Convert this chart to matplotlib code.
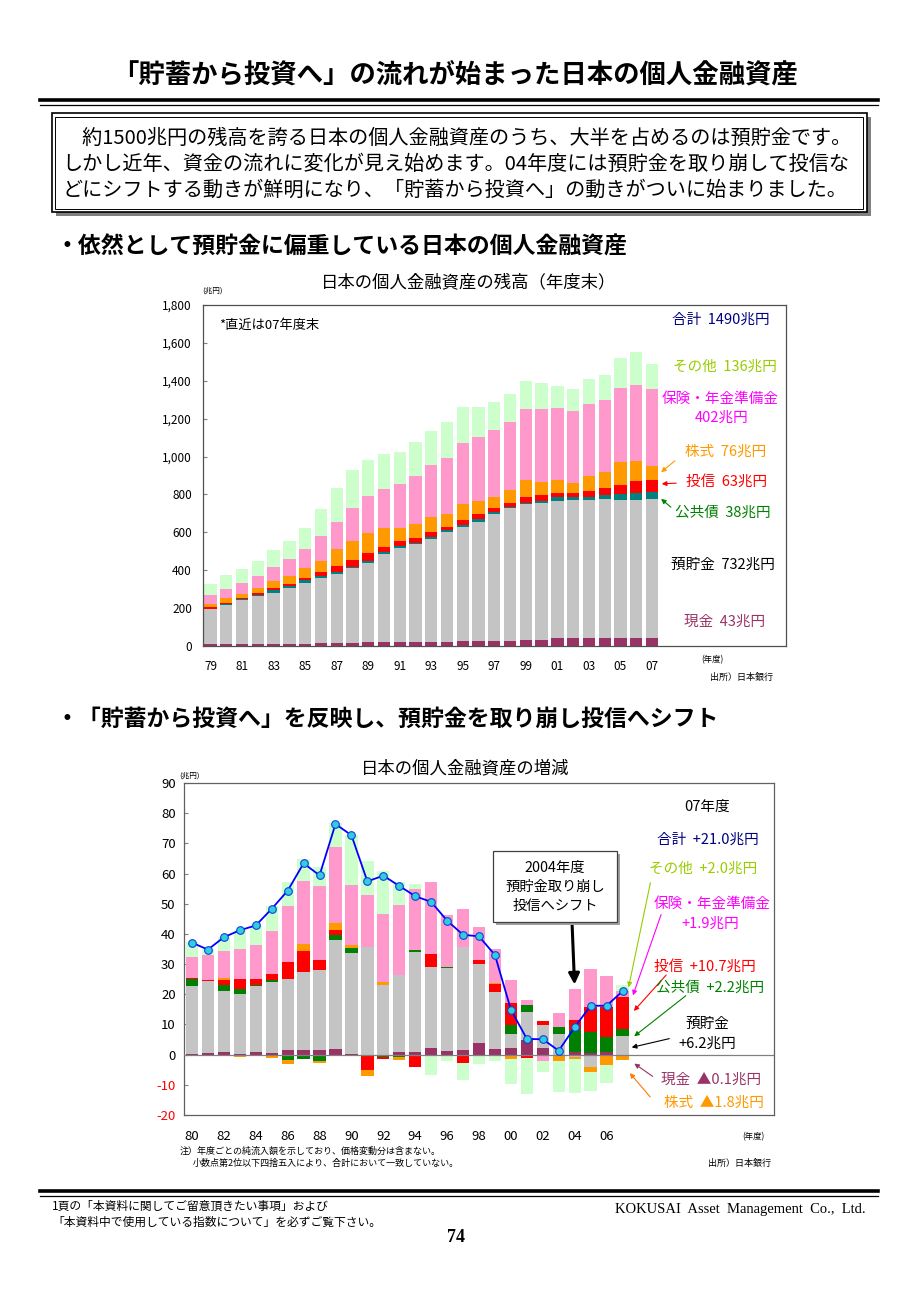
import numpy as np
import matplotlib
matplotlib.use("Agg")
import matplotlib.pyplot as plt
from matplotlib.lines import Line2D
from matplotlib.patches import Rectangle

plt.rcParams['font.family'] = ['Noto Sans CJK JP', 'DejaVu Sans']

# ---- data: balance (trillion yen, fiscal year end) ----
years_bal = ['79', '80', '81', '82', '83', '84', '85', '86', '87', '88', '89', '90', '91', '92',
             '93', '94', '95', '96', '97', '98', '99', '00', '01', '02', '03', '04', '05', '06', '07']
cash_bal = [9, 10, 10, 11, 11, 12, 13, 15, 17, 18, 21, 21, 21, 21, 22, 23, 24, 25, 27, 29, 33, 33, 40, 41, 42, 42, 43, 43, 43]
deposit_bal = [185, 208, 231, 251, 271, 293, 320, 342, 362, 394, 419, 463, 494, 516, 545, 579, 606, 632, 672, 697,
               715, 721, 726, 729, 731, 733, 727, 728, 732]
bond_bal = [3, 6, 6, 9, 12, 12, 14, 13, 14, 6, 10, 11, 13, 9, 9, 9, 9, 12, 9, 10, 9, 9, 18, 14, 16, 21, 31, 36, 38]
trust_bal = [7, 5, 5, 7, 12, 9, 10, 21, 30, 35, 43, 30, 27, 26, 26, 18, 28, 27, 23, 21, 27, 33, 26, 24, 30, 37, 49, 66, 63]
stock_bal = [20, 23, 25, 27, 36, 44, 53, 58, 91, 102, 106, 97, 68, 74, 81, 70, 81, 70, 58, 69, 93, 72, 65, 53, 81, 83,
             119, 104, 76]
ins_bal = [44, 51, 56, 65, 75, 91, 101, 132, 138, 171, 194, 209, 231, 252, 273, 296, 321, 335, 350, 359, 372, 381,
           379, 377, 379, 384, 391, 402, 402]
other_bal = [61, 70, 74, 79, 92, 94, 114, 141, 181, 202, 188, 185, 171, 180, 180, 185, 190, 162, 150, 145, 151, 141,
             118, 118, 132, 130, 160, 171, 136]

# ---- data: yearly net flow (trillion yen) ----
years_chg = ['80', '81', '82', '83', '84', '85', '86', '87', '88', '89', '90', '91', '92', '93',
             '94', '95', '96', '97', '98', '99', '00', '01', '02', '03', '04', '05', '06', '07']
cash_chg = [0.2, 0.5, 0.8, 0.1, 0.8, 0.7, 1.4, 1.4, 1.4, 1.9, 0.3, 0.0, 0.0, 0.8, 0.8, 2.1, 1.3, 1.7, 3.9, 1.9,
            2.1, 4.9, 2.2, 0.0, 1.0, 0.5, 0.8, -0.1]
dep_chg = [22.4, 23.8, 20.2, 20.0, 21.8, 23.4, 23.7, 26.1, 26.8, 36.2, 33.5, 35.6, 23.2, 25.7, 33.1, 26.9, 27.5,
           34.0, 26.1, 19.0, 4.7, 9.3, 7.7, 6.8, -0.8, -4.2, 0.0, 6.2]
bond_chg = [2.5, 0.0, 2.2, 1.8, 0.5, 0.7, -1.7, -1.3, -2.2, 1.4, 1.4, 0.0, -0.8, -0.8, 0.9, 0.0, 0.3, 0.0, 0.0, 0.0,
            3.1, 2.3, 0.0, 2.5, 7.2, 6.9, 5.2, 2.2]
trust_chg = [0.3, 0.3, 1.6, 3.3, 2.1, 2.0, 5.5, 6.7, 3.1, 1.9, 0.0, -5.0, -0.7, 0.0, -4.2, 4.3, 0.0, -2.8, 1.4, 2.5,
             7.1, -1.0, 1.1, 0.0, 3.4, 8.5, 9.9, 10.7]
stock_chg = [-0.4, 0.1, 0.5, -0.7, 0.0, -1.2, -1.4, 2.6, -0.6, 2.1, 1.1, -2.2, 0.8, -0.9, 0.0, 0.0, -0.5, 0.0, -0.3,
             0.5, -1.4, 0.0, 0.0, -2.0, -0.8, -1.7, -3.3, -1.8]
ins_chg = [7.0, 8.3, 8.9, 9.9, 11.2, 14.1, 18.5, 20.8, 24.5, 25.3, 19.9, 17.2, 22.6, 23.2, 20.2, 23.9, 17.0, 12.4,
           10.9, 11.0, 7.8, 1.7, -2.0, 4.4, 10.2, 12.5, 10.0, 1.9]
other_chg = [4.9, 2.0, 4.7, 6.3, 6.3, 8.5, 8.1, 7.2, 6.3, 7.8, 16.5, 11.5, 14.1, 7.5, 1.6, -6.6, -1.5, -5.5, -2.9,
             -2.0, -8.3, -12.0, -3.9, -10.3, -11.0, -6.1, -6.1, 2.0]
total_chg = [37.1, 34.8, 38.9, 41.2, 42.8, 48.3, 54.3, 63.4, 59.4, 76.4, 72.7, 57.4, 59.3, 55.9, 52.5, 50.6, 44.4,
             39.7, 39.2, 33.0, 14.9, 5.2, 5.1, 1.3, 9.1, 16.2, 16.2, 21.0]

C_CASH = '#993366'
C_DEP = '#C4C4C4'
C_TEAL = '#008080'
C_GREEN = '#008000'
C_RED = '#FF0000'
C_ORANGE = '#FF9900'
C_PINK = '#FF99CC'
C_OTHER = '#CCFFCC'
C_NAVY = '#000080'
C_YG = '#99CC00'
C_MAG = '#FF00FF'

W, H = 920, 1302
fig = plt.figure(figsize=(W / 100, H / 100), dpi=100)


def fx(x):
    return x / W


def fy(y):
    return 1 - y / H


def rect(l, t, r, b):
    return [l / W, 1 - b / H, (r - l) / W, (b - t) / H]


def ftext(x, y, s, **kw):
    kw.setdefault('ha', 'center')
    kw.setdefault('va', 'center')
    fig.text(fx(x), fy(y), s, **kw)


def farrow(x0, y0, x1, y1, color, lw=0.8, ms=7):
    fig.add_artist(matplotlib.patches.FancyArrowPatch(
        (fx(x0), fy(y0)), (fx(x1), fy(y1)), transform=fig.transFigure,
        arrowstyle='-|>', mutation_scale=ms, color=color, lw=lw))


def stack(ax, x, series, colors, width):
    pos = np.zeros(len(x))
    neg = np.zeros(len(x))
    for vals, c in zip(series, colors):
        v = np.array(vals, dtype=float)
        p = np.where(v > 0, v, 0)
        n = np.where(v < 0, v, 0)
        ax.bar(x, p, width, bottom=pos, color=c, linewidth=0, zorder=2)
        ax.bar(x, n, width, bottom=neg, color=c, linewidth=0, zorder=2)
        pos += p
        neg += n


# ---- header ----
ftext(455, 75, '「貯蓄から投資へ」の流れが始まった日本の個人金融資産', fontsize=19, fontweight='bold')
fig.add_artist(Line2D([fx(40), fx(878)], [fy(100), fy(100)], lw=2.6, color='black'))
fig.add_artist(Line2D([fx(40), fx(878)], [fy(104.5), fy(104.5)], lw=0.9, color='black'))

fig.add_artist(Rectangle((fx(56), fy(216)), fx(815), 99 / H, transform=fig.transFigure,
                         fc='#808080', ec='none'))
fig.add_artist(Rectangle((fx(52), fy(212)), fx(815), 99 / H, transform=fig.transFigure,
                         fc='white', ec='black', lw=1.2))
fig.add_artist(Rectangle((fx(55.5), fy(208.5)), fx(808), 92 / H, transform=fig.transFigure,
                         fc='none', ec='black', lw=0.7))
ftext(62, 138, '　約1500兆円の残高を誇る日本の個人金融資産のうち、大半を占めるのは預貯金です。', ha='left', fontsize=14.5)
ftext(62, 164, 'しかし近年、資金の流れに変化が見え始めます。04年度には預貯金を取り崩して投信な', ha='left', fontsize=14.5)
ftext(62, 190, 'どにシフトする動きが鮮明になり、「貯蓄から投資へ」の動きがついに始まりました。', ha='left', fontsize=14.5)

# ---- chart 1: balance ----
ftext(56, 247, '・依然として預貯金に偏重している日本の個人金融資産', ha='left', fontsize=16.5, fontweight='bold')
ftext(469, 282, '日本の個人金融資産の残高（年度末）', fontsize=12.5)

ax1 = fig.add_axes(rect(203, 305, 786, 646))
x1 = np.arange(len(years_bal))
stack(ax1, x1, [cash_bal, deposit_bal, bond_bal, trust_bal, stock_bal, ins_bal, other_bal],
      [C_CASH, C_DEP, C_TEAL, C_RED, C_ORANGE, C_PINK, C_OTHER], 0.78)
ax1.set_xlim(-0.48, 36.5)
ax1.set_ylim(0, 1800)
ax1.set_yticks(range(0, 1801, 200))
ax1.set_yticklabels([f'{v:,}' for v in range(0, 1801, 200)], fontsize=8.5)
ax1.set_xticks(x1[::2])
ax1.set_xticklabels(years_bal[::2], fontsize=8.5)
ax1.tick_params(axis='x', length=0, pad=10)
ax1.tick_params(axis='y', length=3, direction='in', pad=8, color='#808080')
for s in ax1.spines.values():
    s.set_color('#505050')
    s.set_linewidth(0.9)

ftext(213, 291, '(兆円)', fontsize=5.5)
ftext(712, 660, '(年度)', fontsize=6)
ftext(742, 677, '出所）日本銀行', fontsize=6.5)
ftext(219, 325, '*直近は07年度末', ha='left', fontsize=9.5)

ftext(721, 320, '合計  1490兆円', fontsize=10.5, color=C_NAVY)
ftext(725, 367, 'その他  136兆円', fontsize=10.5, color=C_YG)
ftext(720, 399, '保険・年金準備金', fontsize=10.5, color=C_MAG)
ftext(722, 418, '402兆円', fontsize=10.5, color=C_MAG)
ftext(726, 452, '株式  76兆円', fontsize=10.5, color=C_ORANGE)
ftext(727, 482, '投信  63兆円', fontsize=10.5, color=C_RED)
ftext(723, 513, '公共債  38兆円', fontsize=10.5, color=C_GREEN)
ftext(723, 565, '預貯金  732兆円', fontsize=10.5, color='black')
ftext(725, 622, '現金  43兆円', fontsize=10.5, color=C_CASH)
farrow(677, 459, 659, 474, C_ORANGE)
farrow(679, 483, 659, 484, C_RED)
farrow(673, 509, 659, 497, C_GREEN)

# ---- chart 2: yearly change ----
ftext(56, 719, '・「貯蓄から投資へ」を反映し、預貯金を取り崩し投信へシフト', ha='left', fontsize=16.5, fontweight='bold')
ftext(465, 768, '日本の個人金融資産の増減', fontsize=12.5)

ax2 = fig.add_axes(rect(184, 783, 774, 1115))
x2 = np.arange(len(years_chg))
stack(ax2, x2, [cash_chg, dep_chg, bond_chg, trust_chg, stock_chg, ins_chg, other_chg],
      [C_CASH, C_DEP, C_GREEN, C_RED, C_ORANGE, C_PINK, C_OTHER], 0.77)
ax2.axhline(0, color='#808080', lw=0.9, zorder=3)
ax2.plot(x2, total_chg, color='#0000FF', lw=1.3, marker='o', ms=5.5,
         mfc='#33CCDD', mec='#1040E0', mew=0.8, zorder=4)
ax2.set_xlim(-0.5, 36.5)
ax2.set_ylim(-20, 90)
ax2.set_yticks(range(-20, 91, 10))
ax2.set_yticklabels([str(v) for v in range(-20, 91, 10)], fontsize=9.5)
for lab, v in zip(ax2.get_yticklabels(), range(-20, 91, 10)):
    if v < 0:
        lab.set_color('red')
ax2.set_xticks(x2[::2])
ax2.set_xticklabels(years_chg[::2], fontsize=9.5)
ax2.tick_params(axis='x', length=0, pad=11)
ax2.tick_params(axis='y', length=3, direction='in', pad=6, color='#808080')
for s in ax2.spines.values():
    s.set_color('#606060')
    s.set_linewidth(0.9)

ftext(190, 776, '(兆円)', fontsize=5.5)
ftext(753, 1137, '(年度)', fontsize=6)
ftext(180, 1151, '注）年度ごとの純流入額を示しており、価格変動分は含まない。', ha='left', fontsize=6.5)
ftext(193, 1163, '小数点第2位以下四捨五入により、合計において一致していない。', ha='left', fontsize=6.5)
ftext(740, 1163, '出所）日本銀行', fontsize=6.5)

# 2004 callout
fig.add_artist(Rectangle((fx(496), fy(925)), fx(124), 71 / H, transform=fig.transFigure,
                         fc='#A0A0A0', ec='none'))
fig.add_artist(Rectangle((fx(493), fy(922)), fx(124), 71 / H, transform=fig.transFigure,
                         fc='white', ec='#404040', lw=0.9))
ftext(555, 868, '2004年度', fontsize=10.3)
ftext(555, 887, '預貯金取り崩し', fontsize=10.3)
ftext(555, 906, '投信へシフト', fontsize=10.3)
ax2.annotate('', xy=(24, 22.3), xycoords='data', xytext=(fx(572), fy(922)), textcoords='figure fraction',
             arrowprops=dict(arrowstyle='-|>', lw=2.2, color='black', mutation_scale=16))

ftext(707, 807, '07年度', fontsize=10.5)
ftext(708, 840, '合計  +21.0兆円', fontsize=10.5, color=C_NAVY)
ftext(703, 869, 'その他  +2.0兆円', fontsize=10.5, color=C_YG)
ftext(712, 904, '保険・年金準備金', fontsize=10.5, color=C_MAG)
ftext(710, 924, '+1.9兆円', fontsize=10.5, color=C_MAG)
ftext(705, 967, '投信  +10.7兆円', fontsize=10.5, color=C_RED)
ftext(710, 988, '公共債  +2.2兆円', fontsize=10.5, color=C_GREEN)
ftext(707, 1024, '預貯金', fontsize=10.5, color='black')
ftext(707, 1044, '+6.2兆円', fontsize=10.5, color='black')
ftext(711, 1080, '現金  ▲0.1兆円', fontsize=10.5, color=C_CASH)
ftext(714, 1103, '株式  ▲1.8兆円', fontsize=10.5, color=C_ORANGE)
farrow(651, 880, 628, 990, C_YG)
farrow(662, 912, 632, 998, C_MAG)
farrow(668, 973, 632, 1013, C_RED)
farrow(688, 994, 632, 1038, C_GREEN)
farrow(672, 1038, 629, 1048, 'black')
farrow(655, 1078, 632, 1062, C_CASH)
farrow(652, 1099, 628, 1071, '#FF7700')

# ---- footer ----
fig.add_artist(Line2D([fx(40), fx(878)], [fy(1191), fy(1191)], lw=2.6, color='black'))
fig.add_artist(Line2D([fx(40), fx(878)], [fy(1195.5), fy(1195.5)], lw=0.9, color='black'))
ftext(52, 1206, '1頁の「本資料に関してご留意頂きたい事項」および', ha='left', fontsize=8.5)
ftext(52, 1222, '「本資料中で使用している指数について」を必ずご覧下さい。', ha='left', fontsize=8.5)
ftext(866, 1210, 'KOKUSAI  Asset  Management  Co.,  Ltd.', ha='right', fontsize=10.5,
      family='Liberation Serif')
ftext(456, 1237, '74', fontsize=13, fontweight='bold', family='Liberation Serif')

fig.savefig('out.png', dpi=100)
